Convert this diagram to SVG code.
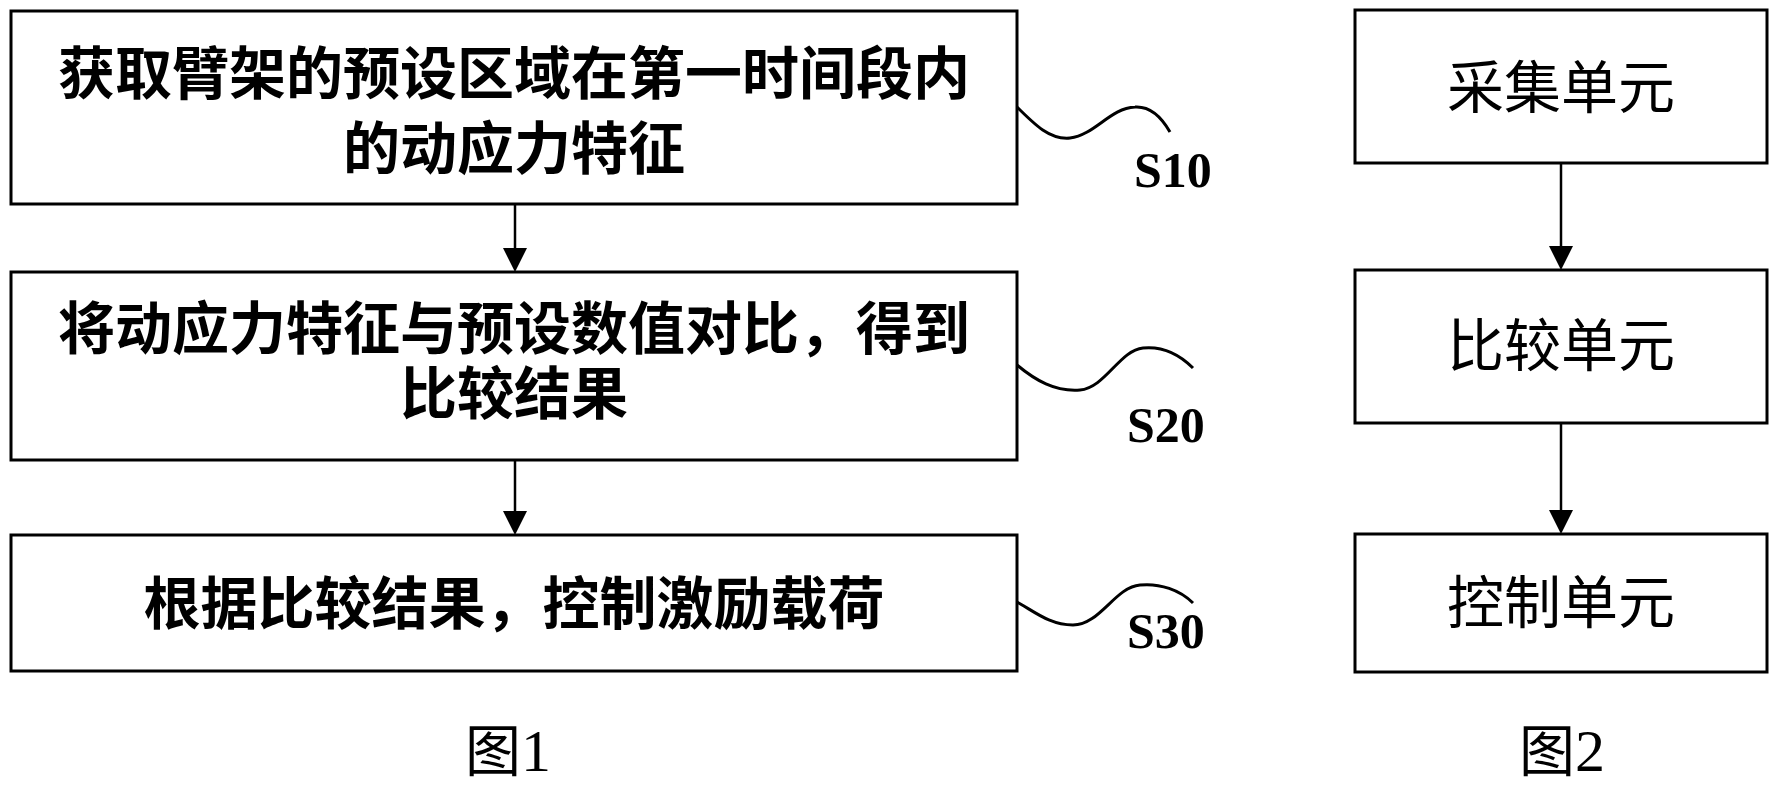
<svg xmlns="http://www.w3.org/2000/svg" width="1780" height="808" viewBox="0 0 1780 808">
<style>
.box{fill:#fff;stroke:#000;stroke-width:3}
.t{font-family:"Noto Sans CJK SC","Noto Sans CJK JP",sans-serif;font-size:57px;fill:#000;text-anchor:middle}
.tb{font-weight:bold}
.lbl{font-family:"Liberation Serif","Times New Roman",serif;font-weight:bold;font-size:50px;fill:#000}
.fig{font-family:"Noto Sans CJK SC",sans-serif;font-size:56px;fill:#000}
.dig{font-family:"Liberation Serif",serif;font-size:60px}
.wave{fill:none;stroke:#000;stroke-width:3}
.ln{stroke:#000;stroke-width:2.5}
.head{fill:#000}
</style>
<g id="connectors">
<line class="ln" x1="515" y1="204" x2="515" y2="250"/>
<line class="ln" x1="515" y1="460" x2="515" y2="513"/>
<line class="ln" x1="1561" y1="163" x2="1561" y2="248"/>
<line class="ln" x1="1561" y1="423" x2="1561" y2="512"/>
<path class="head" d="M503,248 L527,248 L515,272 Z"/>
<path class="head" d="M503,511 L527,511 L515,535 Z"/>
<path class="head" d="M1549,246 L1573,246 L1561,270 Z"/>
<path class="head" d="M1549,510 L1573,510 L1561,534 Z"/>
</g>
<g id="s10">
<rect class="box" x="11" y="11" width="1006" height="193"/>
<text class="t tb" x="514" y="94">获取臂架的预设区域在第一时间段内</text>
<text class="t tb" x="514" y="169">的动应力特征</text>
<path class="wave" d="M1017,107 C1035,125 1050,140 1070,138 C1095,135 1110,108 1135,107 C1150,106 1162,118 1170,132"/>
<text class="lbl" x="1134" y="187">S10</text>
</g>
<g id="s20">
<rect class="box" x="11" y="272" width="1006" height="188"/>
<text class="t tb" x="514" y="349">将动应力特征与预设数值对比，得到</text>
<text class="t tb" x="514" y="414">比较结果</text>
<path class="wave" d="M1017,365 C1035,380 1055,392 1080,390 C1105,388 1120,350 1143,348 C1163,346 1180,355 1193,368"/>
<text class="lbl" x="1127" y="442">S20</text>
</g>
<g id="s30">
<rect class="box" x="11" y="535" width="1006" height="136"/>
<text class="t tb" x="514" y="624">根据比较结果，控制激励载荷</text>
<path class="wave" d="M1017,602 C1035,612 1050,625 1073,625 C1100,625 1115,587 1140,585 C1160,583 1180,590 1193,603"/>
<text class="lbl" x="1127" y="648">S30</text>
</g>
<g id="collect">
<rect class="box" x="1355" y="10" width="412" height="153"/>
<text class="t" x="1561" y="108">采集单元</text>
</g>
<g id="compare">
<rect class="box" x="1355" y="270" width="412" height="153"/>
<text class="t" x="1561" y="366">比较单元</text>
</g>
<g id="control">
<rect class="box" x="1355" y="534" width="412" height="138"/>
<text class="t" x="1561" y="623">控制单元</text>
</g>
<g id="captions">
<text class="fig" x="465" y="771">图<tspan class="dig">1</tspan></text>
<text class="fig" x="1519" y="771">图<tspan class="dig">2</tspan></text>
</g>
</svg>
